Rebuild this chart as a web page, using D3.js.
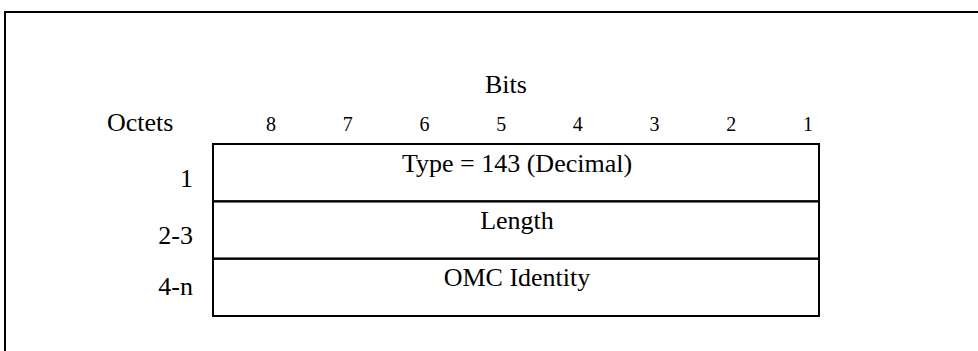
<!DOCTYPE html>
<html>
<head>
<meta charset="utf-8">
<script src="https://cdn.jsdelivr.net/npm/d3@7"></script>
<style>
  html, body { margin: 0; padding: 0; background: #fff; }
  svg { display: block; }
  text { font-family: "Liberation Serif", "Times New Roman", serif; fill: #000; }
</style>
</head>
<body>
<svg id="chart" width="978" height="351"></svg>
<script>
// ---- data ----
const bitLabels = ["8", "7", "6", "5", "4", "3", "2", "1"];
const octetLabels = ["1", "2-3", "4-n"];
const fieldNames = ["Type = 143 (Decimal)", "Length", "OMC Identity"];
const headerTitle = "Bits";
const octetsTitle = "Octets";

// ---- layout ----
const svg = d3.select("#chart");
const W = 978, H = 351;
const tableLeft = 213, tableRight = 819, tableTop = 144, tableBottom = 316;

// outer frame (extends past right/bottom edge)
svg.append("rect")
  .attr("x", 5).attr("y", 12)
  .attr("width", W + 20).attr("height", H + 20)
  .attr("fill", "none").attr("stroke", "#000").attr("stroke-width", 2);

const x = d3.scalePoint().domain(bitLabels).range([271, 808]);
const y = d3.scaleBand().domain(octetLabels).range([tableTop, tableBottom]);

// header
svg.append("text")
  .attr("x", 506).attr("y", 93)
  .attr("text-anchor", "middle").attr("font-size", 26)
  .text(headerTitle);

svg.append("text")
  .attr("x", 107).attr("y", 131)
  .attr("font-size", 26)
  .text(octetsTitle);

svg.selectAll("text.bit").data(bitLabels).join("text")
  .attr("class", "bit")
  .attr("x", d => x(d)).attr("y", 130.5)
  .attr("text-anchor", "middle").attr("font-size", 20)
  .text(d => d);

// rows
const labelDy = [42.7, 43, 36];
const rows = svg.selectAll("g.row").data(octetLabels.map((o, i) => ({o, f: fieldNames[i], i})))
  .join("g").attr("class", "row");

rows.append("rect")
  .attr("x", tableLeft).attr("y", d => y(d.o))
  .attr("width", tableRight - tableLeft).attr("height", y.bandwidth())
  .attr("fill", "none").attr("stroke", "#000").attr("stroke-width", 2);

rows.append("text")
  .attr("x", 193).attr("y", d => y(d.o) + labelDy[d.i])
  .attr("text-anchor", "end").attr("font-size", 26)
  .text(d => d.o);

rows.append("text")
  .attr("x", (tableLeft + tableRight) / 2 + 1).attr("y", d => y(d.o) + 27.5)
  .attr("text-anchor", "middle").attr("font-size", 26)
  .text(d => d.f);
</script>
</body>
</html>
